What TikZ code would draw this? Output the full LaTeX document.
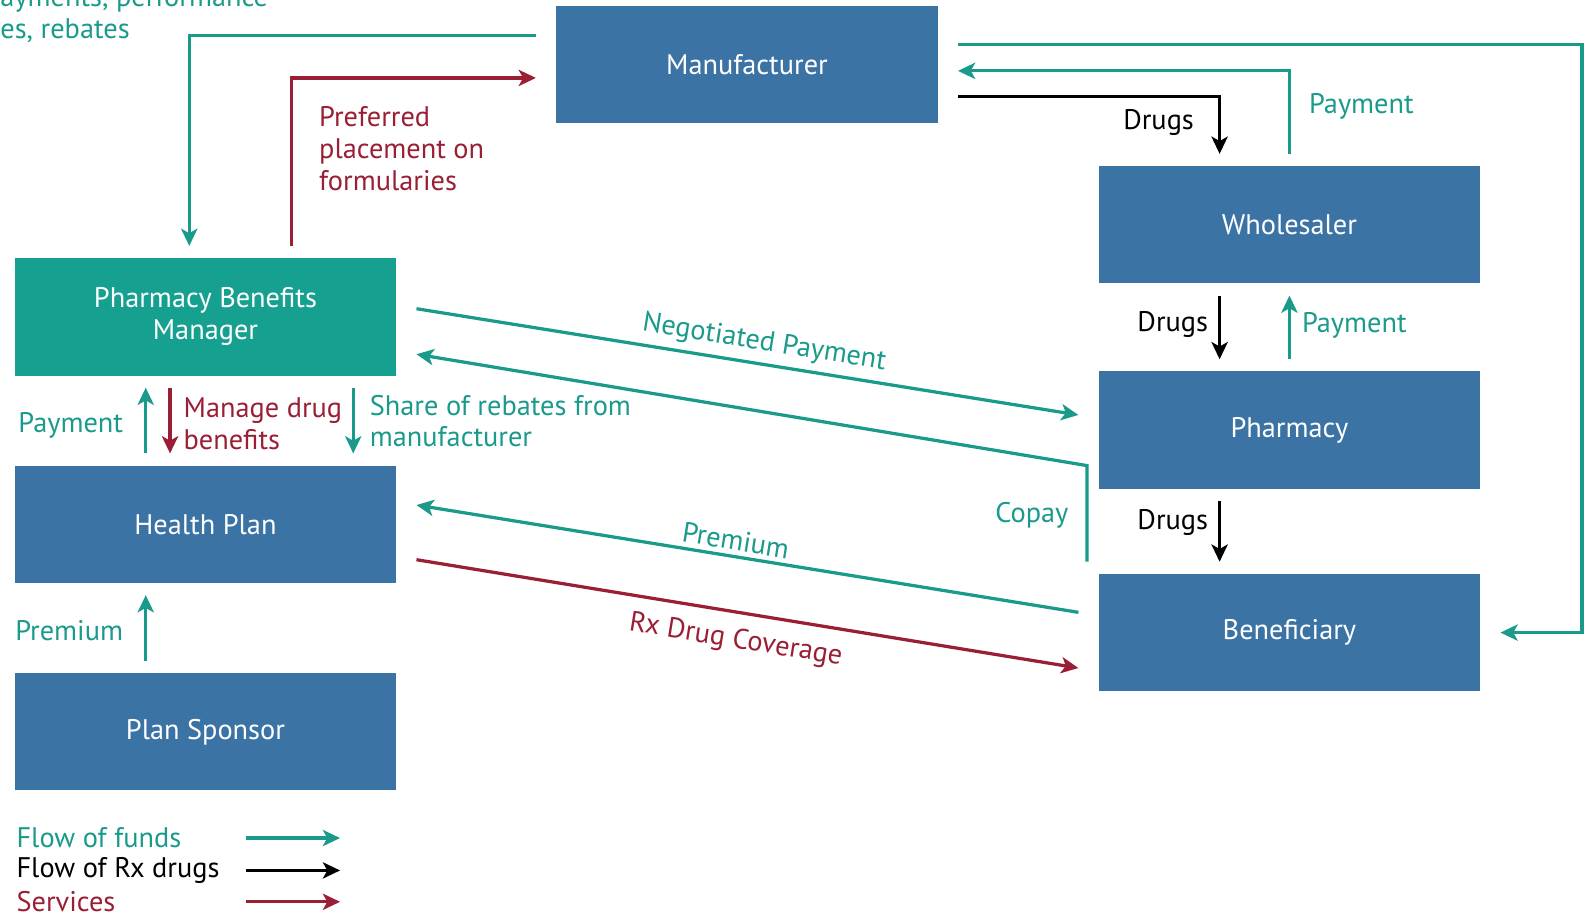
\documentclass[tikz,border=0pt]{standalone}
\usepackage{fontspec}
\setmainfont{PT Sans}
\usetikzlibrary{arrows.meta}
\definecolor{boxblue}{HTML}{3B73A5}
\definecolor{pbmteal}{HTML}{16A090}
\definecolor{fundcol}{HTML}{1A9A8B}
\definecolor{servcol}{HTML}{9A1F35}
\tikzset{
  box/.style={fill=boxblue, text=white, align=center, minimum width=188.5pt,
    minimum height=58pt, outer xsep=10pt, outer ysep=6pt},
  lab/.style={inner sep=1pt},
  tip/.style={-{Stealth[length=8.5pt, width=8pt, inset=2.2pt]}},
  funds/.style={draw=fundcol, line width=1.6pt, tip},
  drugs/.style={draw=black, line width=1.6pt, tip},
  services/.style={draw=servcol, line width=1.6pt, tip}
}
\begin{document}
\begin{tikzpicture}[x=0.5pt, y=-0.5pt, font=\fontsize{14}{15.75}\selectfont]
\useasboundingbox (0,0) rectangle (1568,906);
% boxes
\foreach \name/\label/\x/\y in {manu/Manufacturer/738/64, whole/Wholesaler/1274/222,
    pharm/Pharmacy/1274/425, bene/Beneficiary/1274/625,
    hp/Health Plan/203/518, sponsor/Plan Sponsor/203/723}
{
  \node[box] (\name) at (\x,\y) {\label};
}
\node[box, fill=pbmteal] (pbm) at (203,313) {Pharmacy Benefits\\Manager};
% helper corners
\coordinate (rim) at (1563,44);
\coordinate (copay) at (1074,460);
% manufacturer and pbm
\draw[funds] (manu.west |- 0,35) -| (187,0 |- pbm.north);
\draw[services] (288,0 |- pbm.north) |- (manu.west |- 0,77);
\node[lab, text=fundcol, anchor=west, align=left] (lrebates) at (-2,14) {ayments, performance\\es, rebates};
\node[lab, text=servcol, anchor=west, align=left] (lplace) at (313,147) {Preferred\\placement on\\formularies};
% manufacturer, wholesaler and beneficiary
\draw[funds] (manu.east |- rim) -- (rim) |- (bene.east);
\draw[funds] (whole.north) |- (manu.east |- 0,70);
\draw[drugs] (manu.east |- 0,95) -| (1205,0 |- whole.north);
\node[lab, anchor=east] (ldrugs1) at (1182,121) {Drugs};
\node[lab, text=fundcol, anchor=west] (lpay1) at (1291,105) {Payment};
% wholesaler and pharmacy
\draw[drugs] (1205,0 |- whole.south) -- (1205,0 |- pharm.north);
\draw[funds] (pharm.north) -- (whole.south);
\node[lab, anchor=east] (ldrugs2) at (1196,321) {Drugs};
\node[lab, text=fundcol, anchor=west] (lpay2) at (1284,321) {Payment};
% pharmacy and beneficiary
\draw[drugs] (1205,0 |- pharm.south) -- (1205,0 |- bene.north);
\node[lab, anchor=east] (ldrugs3) at (1196,516) {Drugs};
% pbm and pharmacy
\draw[funds] (pbm.east |- 0,305) -- (pharm.west |- 0,410);
\node[lab, text=fundcol, rotate=-9.1] (lnego) at (755,339) {Negotiated Payment};
\draw[funds] (copay |- bene.north) -- (copay) -- (pbm.east |- 0,350);
\node[lab, text=fundcol, anchor=east] (lcopay) at (1058,509) {Copay};
% health plan and beneficiary
\draw[funds] (bene.west |- 0,605) -- (hp.east |- 0,499);
\node[lab, text=fundcol, rotate=-9.2] (lprem1) at (727,534) {Premium};
\draw[services] (hp.east |- 0,553) -- (bene.west |- 0,660);
\node[lab, text=servcol, rotate=-9.2] (lcover) at (727,633) {Rx Drug Coverage};
% pbm and health plan
\draw[funds] (144,0 |- hp.north) -- (144,0 |- pbm.south);
\draw[services] (168,0 |- pbm.south) -- (168,0 |- hp.north);
\draw[funds] (349,0 |- pbm.south) -- (349,0 |- hp.north);
\node[lab, text=fundcol, anchor=east] (lpay3) at (124,420) {Payment};
\node[lab, text=servcol, anchor=west, align=left] (lmanage) at (179,419) {Manage drug\\benefits};
\node[lab, text=fundcol, anchor=west, align=left] (lshare) at (363,416) {Share of rebates from\\manufacturer};
% plan sponsor and health plan
\draw[funds] (144,0 |- sponsor.north) -- (144,0 |- hp.south);
\node[lab, text=fundcol, anchor=east] (lprem2) at (124,623) {Premium};
% legend
\node[lab, text=fundcol, anchor=west] (lfunds) at (14,828) {Flow of funds};
\node[lab, anchor=west] (lrx) at (14,860) {Flow of Rx drugs};
\node[lab, text=servcol, anchor=west] (lserv) at (14,891) {Services};
\draw[funds] (243,0 |- lfunds.east) -- (336,0 |- lfunds.east);
\draw[drugs] (243,0 |- lrx.east) -- (336,0 |- lrx.east);
\draw[services] (243,0 |- lserv.east) -- (336,0 |- lserv.east);
\end{tikzpicture}
\end{document}
